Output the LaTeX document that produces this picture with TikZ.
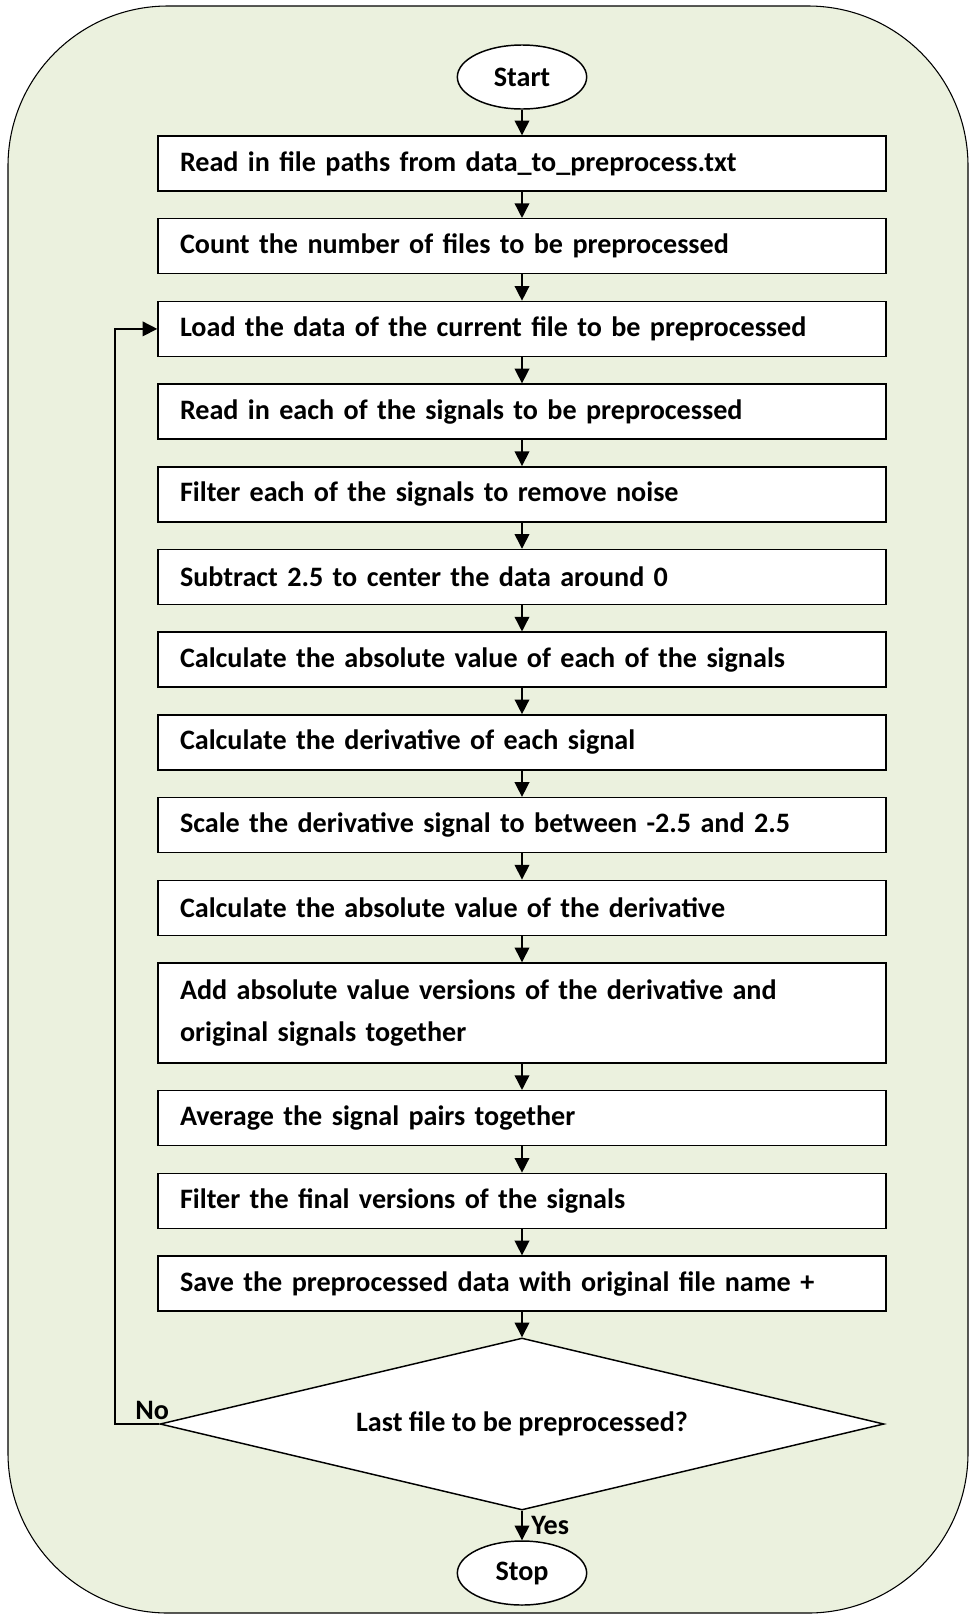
\documentclass[tikz,border=0pt]{standalone}
\usepackage{fontspec}
\setmainfont{Carlito}
\usetikzlibrary{shapes.geometric,arrows.meta}
\definecolor{bggreen}{HTML}{EBF1DE}
\newcommand\flowfont{\fontsize{21.1}{31.5}\selectfont\bfseries}

\begin{document}
\begin{tikzpicture}[x=0.75pt,y=-0.75pt,
  procbox/.style={draw, fill=white, line width=1.1pt, text width=513pt,
    inner xsep=16.5pt, inner ysep=0pt, minimum height=41.25pt,
    align=left, font=\flowfont},
  terminal/.style={ellipse, draw, fill=white, line width=1.1pt,
    minimum width=97pt, minimum height=48pt, inner sep=0pt, font=\flowfont},
  decision/.style={diamond, draw, fill=white, line width=1.1pt, aspect=4,
    minimum width=543pt, minimum height=129pt, inner sep=0pt, font=\flowfont},
  flowlabel/.style={inner sep=0pt, font=\flowfont},
  flow/.style={line width=1.1pt, -{Triangle[length=11pt,width=11pt]}}]

\useasboundingbox (0,0) rectangle (969,1614);

% rounded background panel
\draw[fill=bggreen, line width=0.8pt, rounded corners=120pt] (8,6) rectangle (968,1613);

\node[terminal] (start) at (522,77) {Start};

\node[procbox] (b1)  at (522,163.5) {Read in file paths from data\_to\_preprocess.txt};
\node[procbox] (b2)  at (522,246.2) {Count the number of files to be preprocessed};
\node[procbox] (b3)  at (522,328.9) {Load the data of the current file to be preprocessed};
\node[procbox] (b4)  at (522,411.6) {Read in each of the signals to be preprocessed};
\node[procbox] (b5)  at (522,494.3) {Filter each of the signals to remove noise};
\node[procbox] (b6)  at (522,577.0) {Subtract 2.5 to center the data around 0};
\node[procbox] (b7)  at (522,659.7) {Calculate the absolute value of each of the signals};
\node[procbox] (b8)  at (522,742.4) {Calculate the derivative of each signal};
\node[procbox] (b9)  at (522,825.1) {Scale the derivative signal to between -2.5 and 2.5};
\node[procbox] (b10) at (522,907.8) {Calculate the absolute value of the derivative};
\node[procbox, minimum height=75pt] (b11) at (522,1013)
  {Add absolute value versions of the derivative and\\original signals together};
\node[procbox] (b12) at (522,1118.2) {Average the signal pairs together};
\node[procbox] (b13) at (522,1200.9) {Filter the final versions of the signals};
\node[procbox] (b14) at (522,1283.6) {Save the preprocessed data with original file name +};

\node[decision] (dec) at (522,1424) {Last file to be preprocessed?};

\node[terminal] (stop) at (522,1573) {Stop};

% main flow
\draw[flow] (start) -- (b1);
\foreach \a/\b in {b1/b2,b2/b3,b3/b4,b4/b5,b5/b6,b6/b7,b7/b8,b8/b9,b9/b10,
                   b10/b11,b11/b12,b12/b13,b13/b14}
  \draw[flow] (\a) -- (\b);
\draw[flow] (b14) -- (dec);
\draw[flow] (dec.south) -- (stop.north);

% loop back to the next file
\coordinate (loopx) at (115,1424);
\draw[flow] (dec.west) -- (loopx) |- (b3.west);

\node[flowlabel, anchor=base west] (nolbl) at (135,1419) {No};
\node[flowlabel, anchor=base west] (yeslbl) at (531,1534) {Yes};
\end{tikzpicture}
\end{document}
